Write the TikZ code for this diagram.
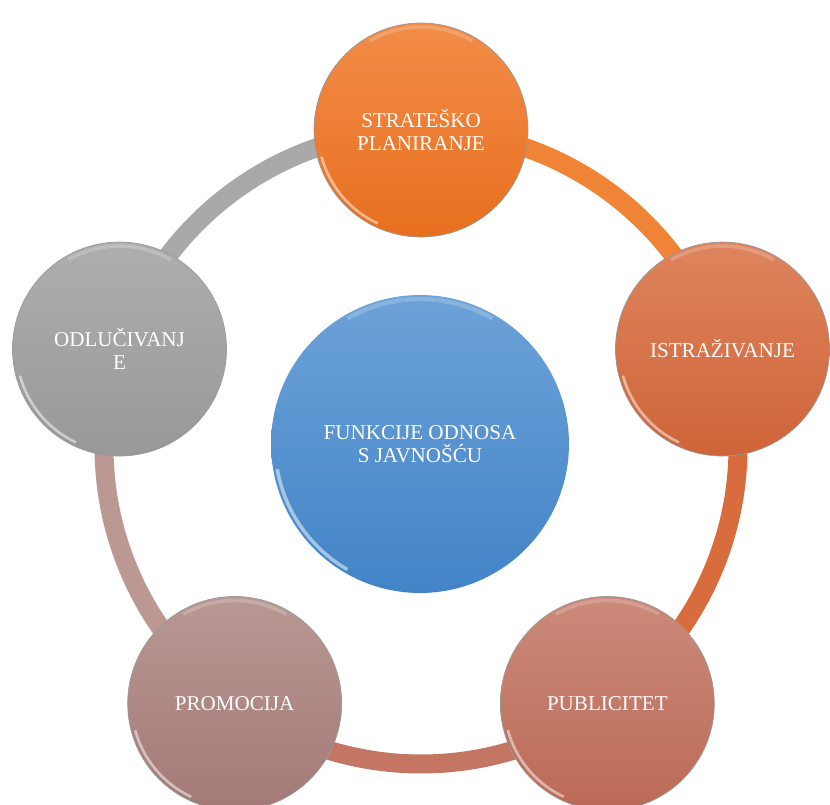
\documentclass[tikz,border=0pt]{standalone}
\usepackage{fontspec}
\setmainfont{Liberation Serif}
\usetikzlibrary{backgrounds}

\definecolor{plantop}{HTML}{F28C48}
\definecolor{planbot}{HTML}{E86F1F}
\definecolor{restop}{HTML}{DE845E}
\definecolor{resbot}{HTML}{CF6438}
\definecolor{pubtop}{HTML}{CB8A7A}
\definecolor{pubbot}{HTML}{BC6A57}
\definecolor{promtop}{HTML}{B99894}
\definecolor{prombot}{HTML}{A37977}
\definecolor{dectop}{HTML}{AEAEAE}
\definecolor{decbot}{HTML}{989898}
\definecolor{coretop}{HTML}{6DA2D8}
\definecolor{corebot}{HTML}{4284C7}
% ring colours
\definecolor{ringplan}{HTML}{EF8436}
\definecolor{ringres}{HTML}{D86C3D}
\definecolor{ringpub}{HTML}{C47563}
\definecolor{ringprom}{HTML}{BC9893}
\definecolor{ringdec}{HTML}{A9A9A9}

\tikzset{
  bubble/.style={circle, draw=black!40, line width=0.4pt, minimum size=4.28cm, inner sep=0pt,
    text=white, align=center, font=\fontsize{12}{13}\selectfont,
    path picture={
      \draw[white, opacity=0.5, line width=1.5pt] (path picture bounding box.center) ++(195:2.06cm) arc (195:245:2.06cm);
      \draw[white, opacity=0.2, line width=2pt] (path picture bounding box.center) ++(60:2.06cm) arc (60:120:2.06cm);
    }},
  bigbubble/.style={bubble, draw=none, minimum size=5.96cm,
    path picture={
      \draw[white, opacity=0.5, line width=2pt] (path picture bounding box.center) ++(190:2.9cm) arc (190:240:2.9cm);
      \draw[white, opacity=0.2, line width=2.5pt] (path picture bounding box.center) ++(60:2.9cm) arc (60:120:2.9cm);
    }},
  ringarc/.style={line width=0.38cm},
}

\begin{document}
\begin{tikzpicture}[x=0.02cm, y=0.02cm]
  \useasboundingbox (0,0) rectangle (830,804);
  \coordinate (c) at (421,357);

  % five outer circles on the ring
  \node[bubble, top color=plantop, bottom color=planbot] (plan) at ([shift={(90:317)}]c) {STRATEŠKO\\PLANIRANJE};
  \node[bubble, top color=restop, bottom color=resbot] (research) at ([shift={(18:317)}]c) {ISTRAŽIVANJE};
  \node[bubble, top color=pubtop, bottom color=pubbot] (publicity) at ([shift={(-54:317)}]c) {PUBLICITET};
  \node[bubble, top color=promtop, bottom color=prombot] (promotion) at ([shift={(-126:317)}]c) {PROMOCIJA};
  \node[bubble, top color=dectop, bottom color=decbot] (decision) at ([shift={(162:317)}]c) {ODLUČIVANJ\\E};

  % ring between them, behind the circles
  \begin{scope}[on background layer]
    \draw[ringarc, ringplan] (plan.center) arc (90:18:6.34cm);
    \draw[ringarc, ringres] (research.center) arc (18:-54:6.34cm);
    \draw[ringarc, ringpub] (publicity.center) arc (-54:-126:6.34cm);
    \draw[ringarc, ringprom] (promotion.center) arc (234:162:6.34cm);
    \draw[ringarc, ringdec] (decision.center) arc (162:90:6.34cm);
  \end{scope}

  % centre
  \node[bigbubble, top color=coretop, bottom color=corebot] (core) at (420,360) {FUNKCIJE ODNOSA\\S JAVNOŠĆU};
\end{tikzpicture}
\end{document}
